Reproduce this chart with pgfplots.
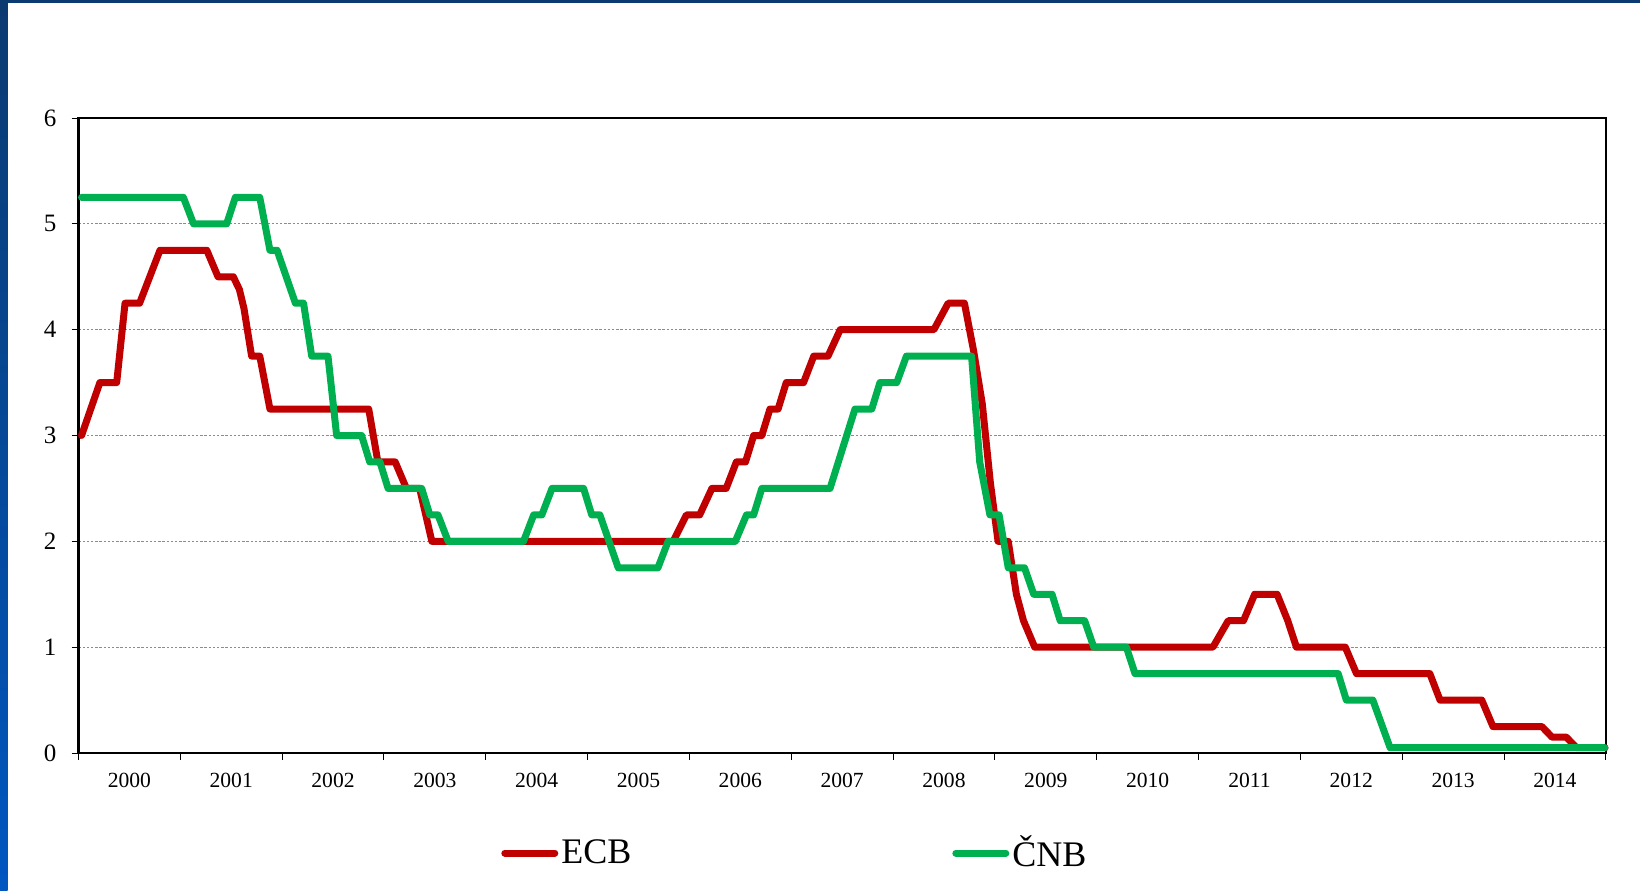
\documentclass[border=0pt]{standalone}
\usepackage{fontspec}
\setmainfont{Liberation Serif}
\usepackage{pgfplots}
\pgfplotsset{compat=1.18}
\definecolor{ecbred}{HTML}{C00000}
\definecolor{cnbgreen}{HTML}{00B050}
\definecolor{navy}{HTML}{0B3A70}
\definecolor{frameblue}{HTML}{0057C0}
\begin{document}
\begin{tikzpicture}
\fill[white] (0,0) rectangle (820pt,445pt);
\useasboundingbox (0,0) rectangle (820pt,445pt);
\shade[top color=navy, bottom color=frameblue] (0,0) rectangle (3.75pt,445pt);
\fill[navy] (0,443.6pt) rectangle (820pt,445pt);
\begin{axis}[
  at={(39.25pt,68.5pt)}, anchor=south west,
  scale only axis, width=763.75pt, height=317.5pt,
  xmin=2000, xmax=2015, ymin=0, ymax=6,
  xtick={2000,...,2015}, x tick label as interval,
  ytick={0,...,6},
  xtick pos=left, ytick pos=left, tick align=outside,
  major tick length=3.5pt,
  tick style={black, line width=0.5pt},
  axis line style={black, line width=1.2pt},
  ymajorgrids, grid style={gray!90, line width=0.55pt, dash pattern=on 1.2pt off 0.9pt},
  /pgf/number format/assume math mode=true,
  /pgf/number format/1000 sep={},
  xticklabel style={font=\fontsize{10.8pt}{12pt}\selectfont, yshift=-2.8pt},
  yticklabel style={font=\fontsize{12.5pt}{14pt}\selectfont, xshift=-4pt},
  clip=false,
  legend columns=2,
  legend style={at={(0.2768,-0.1575)}, anchor=west, draw=none, fill=none,
    inner sep=0pt, outer sep=0pt,
    font=\fontsize{18pt}{20pt}\selectfont, nodes={inner sep=1.5pt},
    /tikz/every even column/.append style={column sep=159pt}},
  legend image code/.code={\draw[#1, line width=3.5pt, line cap=round] (0pt,0pt) -- (25pt,0pt);},
]
\addplot[ecbred, line width=3.5pt, line cap=round, line join=round] coordinates {
(2000.03,3.00) (2000.21,3.50) (2000.375,3.50) (2000.457,4.25) (2000.60,4.25)
(2000.80,4.75) (2001.26,4.75) (2001.37,4.50) (2001.52,4.50) (2001.58,4.38) (2001.625,4.20)
(2001.70,3.75) (2001.78,3.75) (2001.88,3.25) (2002.85,3.25) (2002.94,2.75)
(2003.11,2.75) (2003.22,2.50) (2003.35,2.50) (2003.47,2.00) (2005.84,2.00)
(2005.97,2.25) (2006.10,2.25) (2006.22,2.50) (2006.36,2.50) (2006.46,2.75)
(2006.55,2.75) (2006.63,3.00) (2006.71,3.00) (2006.79,3.25) (2006.87,3.25)
(2006.95,3.50) (2007.12,3.50) (2007.22,3.75) (2007.36,3.75) (2007.48,4.00)
(2008.40,4.00) (2008.54,4.25) (2008.70,4.25) (2008.79,3.80) (2008.875,3.30)
(2008.955,2.55) (2009.03,2.00) (2009.13,2.00) (2009.21,1.50) (2009.28,1.25)
(2009.39,1.00) (2011.14,1.00) (2011.29,1.25) (2011.44,1.25) (2011.55,1.50)
(2011.77,1.50) (2011.875,1.25) (2011.96,1.00) (2012.44,1.00) (2012.55,0.75)
(2013.27,0.75) (2013.37,0.50) (2013.78,0.50) (2013.89,0.25) (2014.37,0.25)
(2014.47,0.15) (2014.61,0.15) (2014.71,0.05) (2014.99,0.05)
};
\addlegendentry{ECB}
\addplot[cnbgreen, line width=3.5pt, line cap=round, line join=round] coordinates {
(2000.03,5.25) (2001.03,5.25) (2001.13,5.00) (2001.455,5.00) (2001.54,5.25)
(2001.78,5.25) (2001.88,4.75) (2001.95,4.75) (2002.13,4.25) (2002.21,4.25)
(2002.29,3.75) (2002.45,3.75) (2002.535,3.00) (2002.78,3.00) (2002.86,2.75)
(2002.96,2.75) (2003.04,2.50) (2003.37,2.50) (2003.45,2.25) (2003.53,2.25)
(2003.63,2.00) (2004.37,2.00) (2004.47,2.25) (2004.55,2.25) (2004.65,2.50)
(2004.96,2.50) (2005.04,2.25) (2005.12,2.25) (2005.30,1.75) (2005.69,1.75)
(2005.79,2.00) (2006.45,2.00) (2006.56,2.25) (2006.63,2.25) (2006.71,2.50)
(2007.38,2.50) (2007.625,3.25) (2007.79,3.25) (2007.87,3.50) (2008.035,3.50)
(2008.13,3.75) (2008.77,3.75) (2008.85,2.75) (2008.95,2.25) (2009.04,2.25)
(2009.13,1.75) (2009.29,1.75) (2009.38,1.50) (2009.56,1.50) (2009.64,1.25)
(2009.88,1.25) (2009.97,1.00) (2010.29,1.00) (2010.375,0.75) (2012.37,0.75)
(2012.45,0.50) (2012.71,0.50) (2012.88,0.05) (2014.99,0.05)
};
\addlegendentry{ČNB}
\end{axis}
\end{tikzpicture}
\end{document}
